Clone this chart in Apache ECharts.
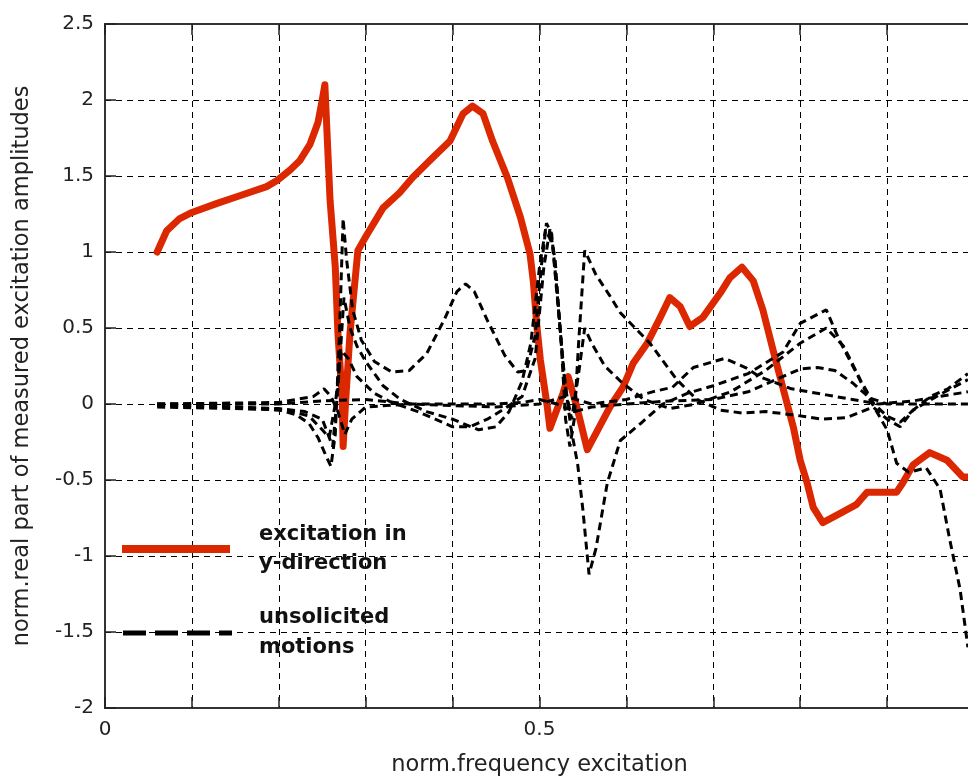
<!DOCTYPE html>
<html><head><meta charset="utf-8">
<script src="https://cdn.jsdelivr.net/npm/echarts@6/dist/echarts.min.js"></script>
<style>html,body{margin:0;padding:0;background:#fff}#c{width:968px;height:781px}</style>
</head><body><div id="c"></div>
<script>
// ---- data ----
const xLabelShown = ['0', '0.5', '1'];

const freqRed = [0.060,0.071,0.086,0.100,0.129,0.155,0.186,0.198,0.213,0.224,0.236,0.245,0.250,0.253,0.259,0.265,0.268,0.273,0.274,0.277,0.282,0.291,0.301,0.320,0.339,0.354,0.377,0.397,0.412,0.423,0.435,0.446,0.463,0.478,0.489,0.493,0.497,0.501,0.509,0.512,0.527,0.533,0.543,0.555,0.581,0.596,0.608,0.624,0.639,0.650,0.662,0.673,0.688,0.708,0.719,0.733,0.746,0.757,0.769,0.780,0.792,0.800,0.808,0.815,0.826,0.846,0.865,0.877,0.911,0.918,0.930,0.949,0.969,0.987,0.993];
const ampRed  = [1.00,1.14,1.22,1.26,1.32,1.37,1.43,1.47,1.54,1.60,1.71,1.85,2.00,2.10,1.34,0.90,0.47,0.03,-0.28,0.03,0.47,1.01,1.11,1.29,1.39,1.49,1.62,1.73,1.91,1.96,1.91,1.73,1.49,1.23,0.99,0.80,0.51,0.29,-0.02,-0.16,0.07,0.18,-0.02,-0.30,-0.02,0.11,0.27,0.40,0.57,0.70,0.64,0.51,0.57,0.73,0.83,0.90,0.81,0.62,0.35,0.11,-0.15,-0.37,-0.52,-0.68,-0.78,-0.72,-0.66,-0.58,-0.58,-0.52,-0.40,-0.32,-0.37,-0.48,-0.48];

const freqU1 = [0.06,0.10,0.15,0.20,0.22,0.235,0.245,0.255,0.26,0.265,0.27,0.274,0.278,0.285,0.295,0.31,0.33,0.35,0.37,0.39,0.405,0.415,0.425,0.44,0.46,0.475,0.485,0.495,0.502,0.508,0.514,0.52,0.528,0.536,0.544,0.55,0.557,0.565,0.578,0.593,0.616,0.642,0.67,0.70,0.74,0.78,0.80,0.83,0.845,0.865,0.88,0.90,0.911,0.925,0.945,0.961,0.972,0.984,0.993];
const ampU1  = [0.00,-0.01,-0.02,-0.04,-0.07,-0.13,-0.22,-0.35,-0.41,-0.20,0.50,1.22,0.95,0.62,0.42,0.28,0.21,0.22,0.33,0.55,0.74,0.79,0.74,0.55,0.32,0.21,0.22,0.45,0.90,1.19,1.12,0.75,0.20,-0.15,-0.40,-0.70,-1.12,-0.95,-0.52,-0.24,-0.13,0.00,0.07,0.12,0.20,0.34,0.53,0.62,0.42,0.20,0.03,-0.17,-0.39,-0.45,-0.42,-0.56,-0.89,-1.22,-1.60];

const freqU2 = [0.06,0.15,0.21,0.235,0.25,0.258,0.265,0.272,0.28,0.29,0.31,0.33,0.36,0.38,0.40,0.42,0.44,0.46,0.48,0.495,0.505,0.512,0.518,0.525,0.53,0.535,0.54,0.545,0.552,0.565,0.58,0.593,0.61,0.627,0.658,0.681,0.708,0.734,0.76,0.79,0.826,0.853,0.884,0.90,0.915,0.93,0.95,0.97,0.993];
const ampU2  = [-0.02,-0.03,-0.04,-0.08,-0.17,-0.22,0.00,0.35,0.30,0.18,0.07,0.01,-0.05,-0.10,-0.15,-0.15,-0.10,-0.03,0.05,0.30,0.90,1.15,0.95,0.40,-0.10,-0.28,-0.10,0.40,1.01,0.85,0.72,0.60,0.50,0.40,0.16,0.03,-0.04,-0.06,-0.05,-0.07,-0.10,-0.09,-0.02,-0.10,-0.15,-0.04,0.05,0.10,0.20];

const freqU3 = [0.06,0.15,0.20,0.23,0.25,0.262,0.268,0.275,0.282,0.29,0.30,0.32,0.34,0.37,0.40,0.43,0.45,0.465,0.48,0.49,0.50,0.507,0.515,0.522,0.53,0.537,0.545,0.552,0.56,0.575,0.595,0.62,0.65,0.68,0.72,0.76,0.80,0.83,0.85,0.87,0.885,0.90,0.915,0.93,0.96,0.993];
const ampU3  = [-0.01,-0.02,-0.03,-0.05,-0.10,-0.28,0.10,0.70,0.50,0.38,0.28,0.12,0.03,-0.05,-0.10,-0.17,-0.15,-0.05,0.15,0.40,0.90,1.15,1.05,0.60,0.10,-0.10,0.20,0.50,0.40,0.25,0.14,0.03,-0.03,0.00,0.08,0.22,0.40,0.50,0.38,0.15,0.00,-0.08,-0.12,-0.04,0.06,0.16];

const freqU4 = [0.06,0.20,0.24,0.252,0.26,0.268,0.276,0.284,0.30,0.35,0.40,0.45,0.48,0.50,0.52,0.54,0.56,0.60,0.65,0.70,0.74,0.78,0.80,0.82,0.84,0.86,0.88,0.90,0.95,0.993];
const ampU4  = [0.00,0.01,0.05,0.10,0.05,-0.05,-0.20,-0.10,-0.02,0.00,0.00,0.00,0.01,0.03,0.00,-0.05,-0.02,0.00,0.02,0.03,0.08,0.18,0.23,0.24,0.22,0.14,0.04,0.00,0.00,0.00];

const freqU5 = [0.06,0.20,0.25,0.30,0.35,0.45,0.50,0.53,0.56,0.60,0.63,0.653,0.677,0.713,0.737,0.753,0.79,0.83,0.86,0.89,0.93,0.96,0.993];
const ampU5  = [0.00,0.00,0.02,0.03,0.00,-0.02,0.00,0.05,0.00,0.03,0.08,0.11,0.24,0.30,0.24,0.18,0.10,0.06,0.03,0.00,0.02,0.05,0.08];

// ---- chart ----
const pairs = (xs, ys) => xs.map((x, i) => [x, ys[i]]);
const chart = echarts.init(document.getElementById('c'), null, {renderer: 'canvas'});
const txt = '#222';
const gridDash = {color: '#000', width: 1, type: [6, 5]};
const blackDash = {color: '#000', width: 3, type: [8, 5]};
const legendFont = 'bold 21px "DejaVu Sans"';

const unsolicited = [[freqU1, ampU1], [freqU2, ampU2], [freqU3, ampU3], [freqU4, ampU4], [freqU5, ampU5]];

chart.setOption({
  animation: false,
  backgroundColor: '#fff',
  grid: {left: 105, top: 24, width: 869, height: 684, outerBoundsMode: 'none', containLabel: false,
         show: true, borderColor: '#333', borderWidth: 2, backgroundColor: 'transparent'},
  xAxis: [{
    type: 'value', min: 0, max: 1, interval: 0.1, position: 'bottom',
    axisLine: {show: true, onZero: false, lineStyle: {color: '#333', width: 2}},
    axisTick: {show: true, inside: true, length: 11, lineStyle: {color: '#222', width: 1.5}},
    axisLabel: {
      margin: 12, color: txt, fontFamily: 'DejaVu Sans', fontSize: 20,
      formatter: v => (Math.abs(v * 2 - Math.round(v * 2)) < 1e-6) ? xLabelShown[Math.round(v * 2)] : ''
    },
    splitLine: {show: true, lineStyle: gridDash},
    name: 'norm.frequency excitation', nameLocation: 'middle', nameGap: 46,
    nameTextStyle: {color: txt, fontFamily: 'DejaVu Sans', fontSize: 22.5}
  }, {
    type: 'value', min: 0, max: 1, interval: 0.1, position: 'top',
    axisLine: {show: true, onZero: false, lineStyle: {color: '#333', width: 2}},
    axisTick: {show: true, inside: true, length: 11, lineStyle: {color: '#222', width: 1.5}},
    axisLabel: {show: false}, splitLine: {show: false}
  }],
  yAxis: [{
    type: 'value', min: -2, max: 2.5, interval: 0.5,
    axisLine: {show: true, onZero: false, lineStyle: {color: '#333', width: 2}},
    axisTick: {show: true, inside: true, length: 11, lineStyle: {color: '#222', width: 1.5}},
    axisLabel: {margin: 11, color: txt, fontFamily: 'DejaVu Sans', fontSize: 20},
    splitLine: {show: true, lineStyle: gridDash},
    name: 'norm.real part of measured excitation amplitudes', nameLocation: 'middle', nameGap: 71,
    nameTextStyle: {color: txt, fontFamily: 'DejaVu Sans', fontSize: 22.5}
  }],
  series: [{
    type: 'line', name: 'excitation in y-direction', data: pairs(freqRed, ampRed),
    showSymbol: false, smooth: false, clip: true, z: 2,
    lineStyle: {color: '#dc2800', width: 7, cap: 'round', join: 'round'}
  }].concat(unsolicited.map((s, i) => ({
    type: 'line', name: 'unsolicited motions ' + (i + 1), data: pairs(s[0], s[1]),
    showSymbol: false, smooth: false, clip: true, z: 3,
    lineStyle: blackDash
  }))),
  graphic: [
    {type: 'line', shape: {x1: 122, y1: 549, x2: 230, y2: 549}, style: {stroke: '#dc2800', lineWidth: 8}, z: 10},
    {type: 'line', shape: {x1: 123, y1: 633, x2: 232, y2: 633}, style: {stroke: '#000', lineWidth: 5, lineDash: [23, 9]}, z: 10},
    {type: 'text', left: 259, top: 524, style: {text: 'excitation in', font: legendFont, fill: '#111'}, z: 10},
    {type: 'text', left: 259, top: 553, style: {text: 'y-direction', font: legendFont, fill: '#111'}, z: 10},
    {type: 'text', left: 259, top: 607, style: {text: 'unsolicited', font: legendFont, fill: '#111'}, z: 10},
    {type: 'text', left: 259, top: 637, style: {text: 'motions', font: legendFont, fill: '#111'}, z: 10}
  ]
});
</script>
</body></html>
